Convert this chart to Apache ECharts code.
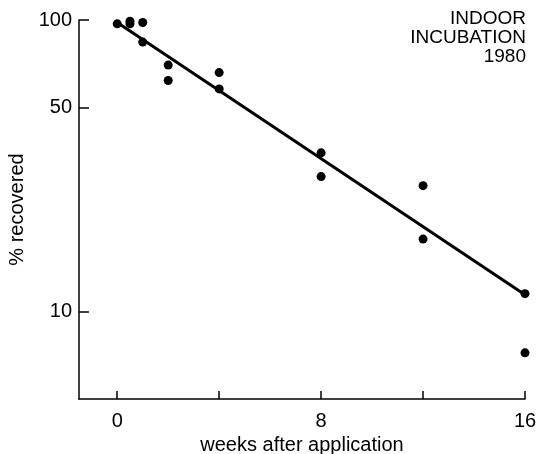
<!DOCTYPE html>
<html>
<head>
<meta charset="utf-8">
<script src="https://cdn.jsdelivr.net/npm/echarts@6/dist/echarts.min.js"></script>
<style>
  html, body { margin: 0; padding: 0; background: #fff; }
  #main { width: 539px; height: 454px; }
</style>
</head>
<body>
<div id="main"></div>
<script>
// observations: weeks after application vs % recovered
var weeks = [0, 0, 0.5, 0.5, 1, 1, 2, 2, 4, 4, 8, 8, 12, 12, 16, 16];
var recovered = [101, 97, 99, 97, 98, 84, 70, 62, 66, 58, 35, 29, 27, 17.7, 11.5, 7.2];

// fitted regression line (ends)
var fitWeeks = [0, 16];
var fitValues = [98, 11.4];

var xTicks = [0, 4, 8, 12, 16];
var xLabels = [0, 8, 16];
var yTicks = [10, 50, 100];
var noteLines = ['INDOOR', 'INCUBATION', '1980'];

var font = 'Liberation Sans, Arial, sans-serif';

var pts = weeks.map(function (w, i) { return [w, recovered[i]]; });
var fit = fitWeeks.map(function (w, i) { return [w, fitValues[i]]; });

var myChart = echarts.init(document.getElementById('main'));
myChart.setOption({
  animation: false,
  grid: { left: 79, right: 14, top: 20, bottom: 55, outerBoundsMode: 'none' },
  xAxis: {
    type: 'value',
    min: -1.5,
    max: 16,
    name: 'weeks after application',
    nameLocation: 'middle',
    nameGap: 36,
    nameTextStyle: { fontFamily: font, fontSize: 20, color: '#000' },
    axisLine: { onZero: false, lineStyle: { color: '#000', width: 1.5 } },
    axisTick: { customValues: xTicks, inside: true, length: 8, lineStyle: { color: '#000', width: 1.5 } },
    axisLabel: { customValues: xLabels, fontFamily: font, fontSize: 20, color: '#000', margin: 12 },
    splitLine: { show: false }
  },
  yAxis: {
    type: 'log',
    logBase: 10,
    min: 5,
    max: 100,
    name: '% recovered',
    nameLocation: 'middle',
    nameRotate: 90,
    nameGap: 52,
    nameTextStyle: { fontFamily: font, fontSize: 20, color: '#000' },
    axisLine: { show: true, onZero: false, lineStyle: { color: '#000', width: 1.5 } },
    axisTick: { customValues: yTicks, inside: true, length: 10, lineStyle: { color: '#000', width: 1.5 } },
    axisLabel: { customValues: yTicks, fontFamily: font, fontSize: 20, color: '#000', margin: 7 },
    splitLine: { show: false }
  },
  graphic: noteLines.map(function (t, i) {
    return {
      type: 'text',
      right: 13,
      top: 9 + i * 19,
      style: { text: t, font: '19px ' + font, fill: '#000' }
    };
  }),
  series: [
    {
      type: 'line',
      data: fit,
      showSymbol: false,
      lineStyle: { color: '#000', width: 3 },
      z: 2
    },
    {
      type: 'scatter',
      data: pts,
      symbolSize: 9,
      itemStyle: { color: '#000', opacity: 1 },
      z: 3
    }
  ]
});
</script>
</body>
</html>
